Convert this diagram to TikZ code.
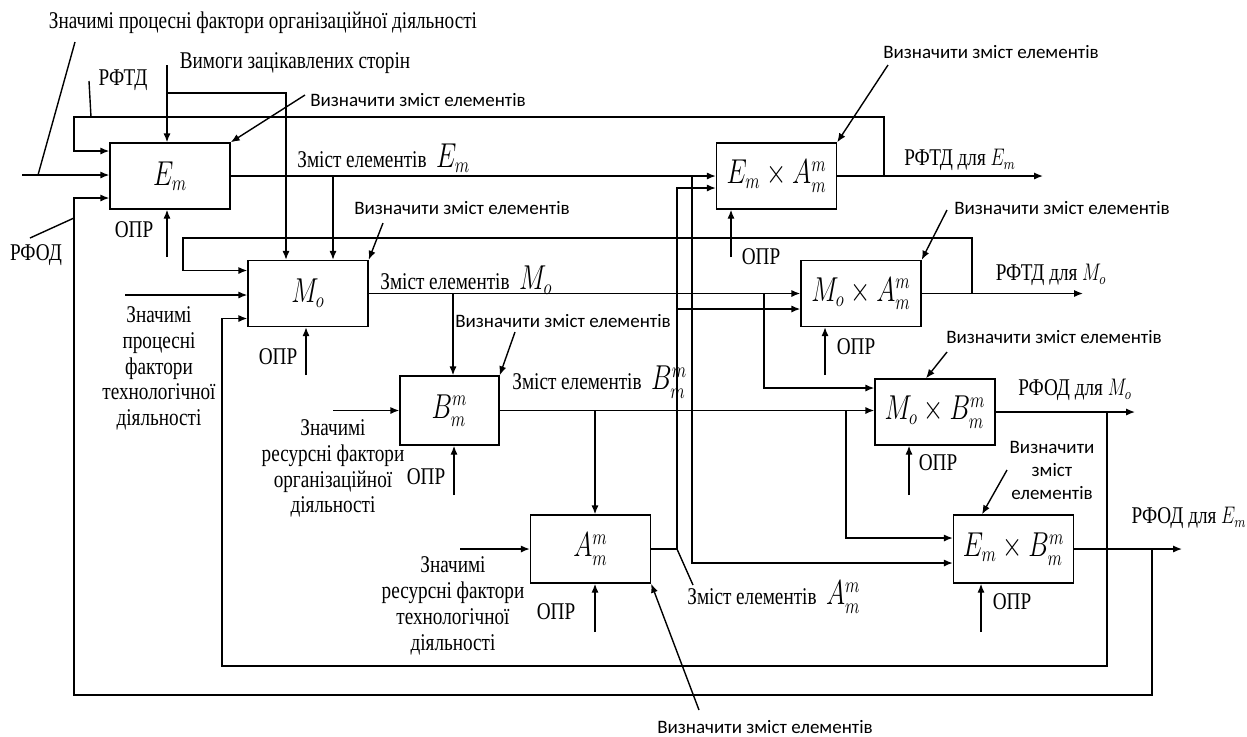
\documentclass[tikz,border=0pt]{standalone}
\usepackage{fontspec}
\usepackage{graphicx}
\setmainfont{Liberation Serif}[FakeStretch=0.8]
\newfontfamily\calib{Carlito}
\newcommand{\cnd}[1]{\scalebox{0.75}[1]{$#1$}}
\usetikzlibrary{arrows.meta,positioning,calc}

\begin{document}
\begin{tikzpicture}[x=0.5pt,y=-0.5pt,
box/.style={draw,line width=0.7pt,minimum width=60pt,minimum height=33pt,inner sep=0pt,font=\fontsize{16}{18}\selectfont},
lbl/.style={inner sep=1pt,align=center,font=\fontsize{12}{12.9}\selectfont},
cont/.style={lbl,anchor=west},
note/.style={inner sep=1pt,align=center,font=\calib\fontsize{9.5}{11.5}\selectfont},
ln/.style={line width=0.7pt},
arr/.style={-{Latex[length=4.5pt,width=3.6pt]},line width=0.7pt}
]
\useasboundingbox (0,0) rectangle (1247,736);
\node[box] (Em) at (170,176) {\cnd{E_m}};
\node[box] (Mo) at (308,293.5) {\cnd{M_o}};
\node[box,minimum width=49.5pt,minimum height=34.5pt] (Bm) at (449.5,410.5) {\cnd{B_m^m}};
\node[box,minimum height=34pt] (Am) at (590.5,549) {\cnd{A_m^m}};
\node[box] (EA) at (776.5,176) {\cnd{E_m\times A_m^m}};
\node[box] (MA) at (861,293.5) {\cnd{M_o\times A_m^m}};
\node[box] (MB) at (935,412) {\cnd{M_o\times B_m^m}};
\node[box,minimum height=34pt] (EB) at (1013.5,549) {\cnd{E_m\times B_m^m}};

\node[lbl] (topf) at (263,23) {Значимі процесні фактори організаційної діяльності};
\node[lbl] (vymogy) at (295,63) {Вимоги зацікавлених сторін};
\node[lbl] (rftd) at (123,80) {РФТД};
\node[lbl] (rfod) at (36,255) {РФОД};
\node[lbl] (proctech) at (159,368.5) {Значимі\\процесні\\фактори\\технологічної\\діяльності};
\node[lbl] (resorg) at (333,468.5) {Значимі\\ресурсні фактори\\організаційної\\діяльності};
\node[lbl] (restech) at (453,606) {Значимі\\ресурсні фактори\\технологічної\\діяльності};

\node[cont] (zmE) at (295,158) {Зміст елементів\ \ {\fontsize{16}{18}\selectfont\cnd{E_m}}};
\node[cont] (zmM) at (378,280) {Зміст елементів\ \ {\fontsize{16}{18}\selectfont\cnd{M_o}}};
\node[cont] (zmB) at (510,382) {Зміст елементів\ \ {\fontsize{16}{18}\selectfont\cnd{B_m^m}}};
\node[cont] (zmA) at (685,597) {Зміст елементів\ \ {\fontsize{16}{18}\selectfont\cnd{A_m^m}}};

\node[lbl] (outEA) at (960,160) {РФТД для \cnd{E_m}};
\node[lbl] (outMA) at (1051,275) {РФТД для \cnd{M_o}};
\node[lbl] (outMB) at (1075,390) {РФОД для \cnd{M_o}};
\node[lbl] (outEB) at (1189,518) {РФОД для \cnd{E_m}};

\node[lbl] (oprE) at (134,230) {ОПР};
\node[lbl] (oprM) at (278,357) {ОПР};
\node[lbl] (oprB) at (426,477) {ОПР};
\node[lbl] (oprA) at (556,612) {ОПР};
\node[lbl] (oprEA) at (761,257) {ОПР};
\node[lbl] (oprMA) at (856,347) {ОПР};
\node[lbl] (oprMB) at (938,463) {ОПР};
\node[lbl] (oprEB) at (1012,602) {ОПР};

\node[note] (vzE) at (418,100) {Визначити зміст елементів};
\node[note] (vzM) at (462,208) {Визначити зміст елементів};
\node[note] (vzB) at (563,321) {Визначити зміст елементів};
\node[note] (vzA) at (765,727) {Визначити зміст елементів};
\node[note] (vzEA) at (991,52) {Визначити зміст елементів};
\node[note] (vzMA) at (1062,208) {Визначити зміст елементів};
\node[note] (vzMB) at (1054,337) {Визначити зміст елементів};
\node[note] (vzEB) at (1052,470) {Визначити\\зміст\\елементів};

\coordinate (lead1) at (75,42);
\coordinate (lead1e) at (38,175);
\draw[ln] (lead1) -- (lead1e);
\coordinate (inE) at (22,175);
\draw[arr] (inE) -- (inE -| Em.west);
\coordinate (rftdA) at (89,81);
\coordinate (rftdB) at (91,117);
\draw[ln] (rftdA) -- (rftdB);
\coordinate (rfodA) at (30,238);
\coordinate (rfodB) at (74,218);
\draw[ln] (rfodA) -- (rfodB);

\coordinate (tl1) at (884,176);
\coordinate (tl2) at (74,117);
\draw[arr] (tl1) |- (tl2) |- ($(Em.west)+(0,-25)$);
\coordinate (outEAend) at (1043,176);
\draw[arr] (EA.east) -- (outEAend);

\coordinate (vymA) at (167,65);
\draw[arr] (vymA) -- (vymA |- Em.north);
\coordinate (vymB) at (167,93);
\coordinate (vymC) at (286,93);
\draw[arr] (vymB) -- (vymC) -- (vymC |- Mo.north);

\coordinate (olR) at (1152,549);
\coordinate (olB) at (74,695);
\draw[arr] (olR) |- (olB) |- ($(Em.west)+(0,22)$);

\draw[arr] (Em.east) -- (EA.west);
\coordinate (brE1) at (333,176);
\draw[arr] (brE1) -- (brE1 |- Mo.north);
\coordinate (brE2) at (692,176);
\draw[arr] (brE2) |- ($(EB.west)+(0,14)$);

\coordinate (mlR) at (972,293.5);
\coordinate (mlL) at (183,238);
\draw[arr] (mlR) |- (mlL) |- ($(Mo.west)+(0,-23)$);
\coordinate (inM) at (125,295);
\draw[arr] (inM) -- (inM -| Mo.west);
\coordinate (ilR) at (1107,412);
\coordinate (ilB) at (222,666);
\draw[arr] (ilR) |- (ilB) |- ($(Mo.west)+(0,25)$);
\coordinate (outMAend) at (1083,293.5);
\draw[arr] (MA.east) -- (outMAend);

\draw[arr] (Mo.east) -- (MA.west);
\coordinate (brM1) at (453,293.5);
\draw[arr] (brM1) -- (brM1 |- Bm.north);
\coordinate (brM2) at (764,293.5);
\draw[arr] (brM2) |- ($(MB.west)+(0,-24)$);

\coordinate (inB) at (333,410.5);
\draw[arr] (inB) -- (inB -| Bm.west);
\draw[arr] (Bm.east) -- (Bm.east -| MB.west);
\coordinate (brB1) at (595,410.5);
\draw[arr] (brB1) -- (brB1 |- Am.north);
\coordinate (brB2) at (846,410.5);
\draw[arr] (brB2) |- ($(EB.west)+(0,-11)$);
\coordinate (outMBend) at (1135,412);
\draw[arr] (MB.east) -- (outMBend);

\coordinate (inA) at (460,549);
\draw[arr] (inA) -- (inA -| Am.west);
\coordinate (brA) at (677,549);
\draw[ln] (Am.east) -- (brA);
\draw[arr] (brA) |- ($(EA.west)+(0,12)$);
\coordinate (brA2) at (677,309);
\draw[arr] (brA2) -- (brA2 -| MA.west);
\coordinate (zmAlead) at (693,585);
\draw[ln] (brA) -- (zmAlead);

\coordinate (outEBend) at (1182,549);
\draw[arr] (EB.east) -- (outEBend);

\coordinate (vzEa) at (305,95);
\draw[arr] (vzEa) -- (Em.north east);
\coordinate (vzMa) at (383,223);
\draw[arr] (vzMa) -- (Mo.north east);
\coordinate (vzBa) at (515,332);
\draw[arr] (vzBa) -- (Bm.north east);
\coordinate (vzAa) at (699,710);
\draw[arr] (vzAa) -- (Am.south east);
\coordinate (vzEAa) at (888,65);
\draw[arr] (vzEAa) -- (EA.north east);
\coordinate (vzMAa) at (947,210);
\draw[arr] (vzMAa) -- (MA.north east);
\coordinate (vzMBa) at (947,352);
\draw[arr] (vzMBa) -- (926,0 |- MB.north);
\coordinate (vzEBa) at (1007,470);
\draw[arr] (vzEBa) -- (982,0 |- EB.north);

\coordinate (oprEa) at (167,257);
\draw[arr] (oprEa) -- (oprEa |- Em.south);
\coordinate (oprMa) at (306,375);
\draw[arr] (oprMa) -- (oprMa |- Mo.south);
\coordinate (oprBa) at (454,495);
\draw[arr] (oprBa) -- (oprBa |- Bm.south);
\coordinate (oprAa) at (595,632);
\draw[arr] (oprAa) -- (oprAa |- Am.south);
\coordinate (oprEAa) at (731,257);
\draw[arr] (oprEAa) -- (oprEAa |- EA.south);
\coordinate (oprMAa) at (825,375);
\draw[arr] (oprMAa) -- (oprMAa |- MA.south);
\coordinate (oprMBa) at (909,495);
\draw[arr] (oprMBa) -- (oprMBa |- MB.south);
\coordinate (oprEBa) at (981,632);
\draw[arr] (oprEBa) -- (oprEBa |- EB.south);
\end{tikzpicture}
\end{document}
